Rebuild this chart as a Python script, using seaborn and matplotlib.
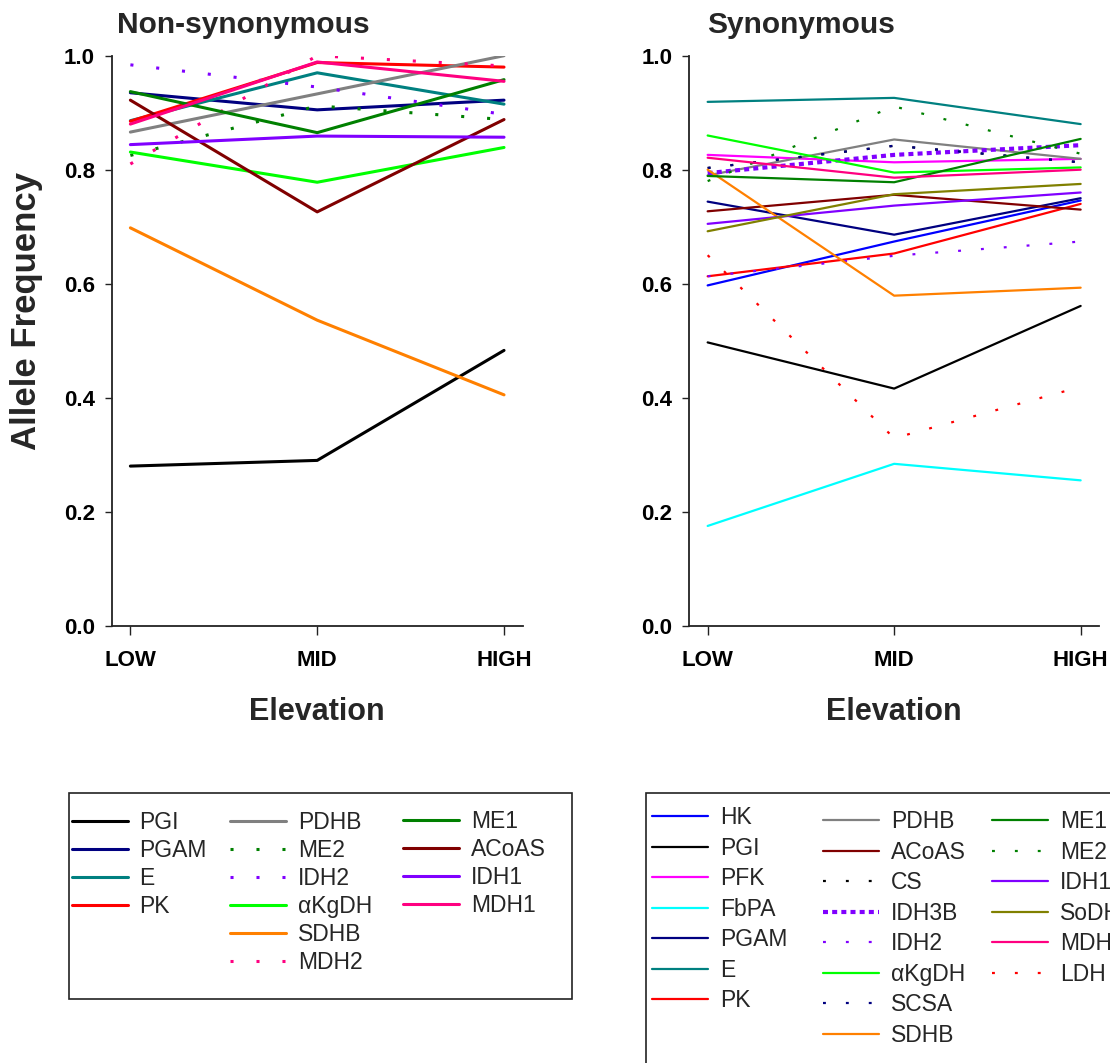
import matplotlib
matplotlib.use("Agg")
import matplotlib.pyplot as plt
import seaborn as sns
from matplotlib.ticker import FormatStrFormatter
from matplotlib.patches import Rectangle

# elevation categories (x axis)
elevation = ["LOW", "MID", "HIGH"]
y_ticks = [0.0, 0.2, 0.4, 0.6, 0.8, 1.0]

# Non-synonymous allele frequencies (LOW, MID, HIGH)
ns_PGI = [0.280, 0.290, 0.483]
ns_PGAM = [0.935, 0.905, 0.922]
ns_E = [0.886, 0.970, 0.915]
ns_PK = [0.885, 0.988, 0.980]
ns_PDHB = [0.866, 0.933, 1.000]
ns_ME2 = [0.825, 0.912, 0.888]
ns_IDH2 = [0.984, 0.945, 0.897]
ns_aKgDH = [0.831, 0.778, 0.839]
ns_SDHB = [0.698, 0.536, 0.405]
ns_MDH2 = [0.810, 1.000, 0.982]
ns_ME1 = [0.937, 0.865, 0.958]
ns_ACoAS = [0.922, 0.726, 0.888]
ns_IDH1 = [0.844, 0.859, 0.857]
ns_MDH1 = [0.880, 0.989, 0.955]

# Synonymous allele frequencies (LOW, MID, HIGH)
s_HK = [0.597, 0.674, 0.746]
s_PGI = [0.497, 0.416, 0.561]
s_PFK = [0.826, 0.813, 0.819]
s_FbPA = [0.175, 0.284, 0.255]
s_PGAM = [0.744, 0.686, 0.750]
s_E = [0.919, 0.926, 0.880]
s_PK = [0.613, 0.653, 0.740]
s_PDHB = [0.790, 0.853, 0.819]
s_ACoAS = [0.727, 0.756, 0.730]
s_CS = [0.803, 0.842, 0.813]
s_IDH3B = [0.794, 0.826, 0.843]
s_IDH2 = [0.613, 0.649, 0.674]
s_aKgDH = [0.860, 0.795, 0.804]
s_SCSA = [0.803, 0.842, 0.813]
s_SDHB = [0.800, 0.579, 0.593]
s_ME1 = [0.789, 0.778, 0.854]
s_ME2 = [0.780, 0.911, 0.828]
s_IDH1 = [0.705, 0.737, 0.760]
s_SoDH = [0.692, 0.757, 0.775]
s_MDH1 = [0.821, 0.786, 0.800]
s_LDH = [0.650, 0.329, 0.419]

# series per panel, in drawing / legend order
ns_series = [
    ("PGI", ns_PGI), ("PGAM", ns_PGAM), ("E", ns_E), ("PK", ns_PK),
    ("PDHB", ns_PDHB), ("ME2", ns_ME2), ("IDH2", ns_IDH2), ("\u03b1KgDH", ns_aKgDH),
    ("SDHB", ns_SDHB), ("MDH2", ns_MDH2), ("ME1", ns_ME1), ("ACoAS", ns_ACoAS),
    ("IDH1", ns_IDH1), ("MDH1", ns_MDH1),
]
s_series = [
    ("HK", s_HK), ("PGI", s_PGI), ("PFK", s_PFK), ("FbPA", s_FbPA),
    ("PGAM", s_PGAM), ("E", s_E), ("PK", s_PK), ("PDHB", s_PDHB),
    ("ACoAS", s_ACoAS), ("CS", s_CS), ("IDH3B", s_IDH3B), ("IDH2", s_IDH2),
    ("\u03b1KgDH", s_aKgDH), ("SCSA", s_SCSA), ("SDHB", s_SDHB), ("ME1", s_ME1),
    ("ME2", s_ME2), ("IDH1", s_IDH1), ("SoDH", s_SoDH), ("MDH1", s_MDH1),
    ("LDH", s_LDH),
]

ns_legend_cols = [
    ["PGI", "PGAM", "E", "PK"],
    ["PDHB", "ME2", "IDH2", "\u03b1KgDH", "SDHB", "MDH2"],
    ["ME1", "ACoAS", "IDH1", "MDH1"],
]
s_legend_cols = [
    ["HK", "PGI", "PFK", "FbPA", "PGAM", "E", "PK"],
    ["PDHB", "ACoAS", "CS", "IDH3B", "IDH2", "\u03b1KgDH", "SCSA", "SDHB"],
    ["ME1", "ME2", "IDH1", "SoDH", "MDH1", "LDH"],
]

# colours and line styles
colors = {
    "HK": "#0000FF", "PGI": "#000000", "PFK": "#FF00FF", "FbPA": "#00FFFF",
    "PGAM": "#000080", "E": "#008080", "PK": "#FF0000", "PDHB": "#808080",
    "ACoAS": "#800000", "CS": "#000000", "IDH3B": "#8000FF", "IDH2": "#8000FF",
    "\u03b1KgDH": "#00FF00", "SCSA": "#000080", "SDHB": "#FF8000", "ME1": "#008000",
    "ME2": "#008000", "IDH1": "#8000FF", "SoDH": "#808000", "MDH1": "#FF0080",
    "MDH2": "#FF0080", "LDH": "#FF0000",
}
dotted = {"ME2", "IDH2", "MDH2", "CS", "SCSA", "LDH"}

sns.set_style("ticks")
plt.rcParams["font.family"] = ["Liberation Sans", "DejaVu Sans"]

W, H = 1110, 1063
fig = plt.figure(figsize=(W / 100, H / 100), dpi=100)
ax1 = fig.add_axes([111.7 / W, 1 - 625.7 / H, 411 / W, 570 / H])
ax2 = fig.add_axes([689 / W, 1 - 625.7 / H, 410.3 / W, 570 / H])


def draw_panel(ax, series, lw, dot_style, dot_lw):
    handles = {}
    for name, vals in series:
        kw = dict(color=colors[name], linewidth=lw)
        if name in dotted:
            kw["linestyle"] = dot_style
            kw["linewidth"] = dot_lw
        if name == "IDH3B":
            kw["linestyle"] = (0, (1.2, 1.0))
            kw["linewidth"] = 3.0
        sns.lineplot(x=elevation, y=vals, ax=ax, errorbar=None, legend=False, **kw)
        handles[name] = ax.lines[-1]
    ax.set_xlim(-0.1, 2.1)
    ax.set_ylim(0, 1.0)
    ax.set_yticks(y_ticks)
    ax.yaxis.set_major_formatter(FormatStrFormatter("%.1f"))
    ax.tick_params(axis="y", length=5, width=1, pad=7, labelsize=16, colors="#222222", labelcolor="black")
    ax.tick_params(axis="x", length=6.5, width=1, pad=11, labelsize=16, colors="#222222", labelcolor="black")
    for lab in ax.get_xticklabels() + ax.get_yticklabels():
        lab.set_fontweight("bold")
    sns.despine(ax=ax)
    for sp in ("left", "bottom"):
        ax.spines[sp].set_linewidth(1.3)
        ax.spines[sp].set_color("#222222")
    ax.set_xlabel("Elevation", fontsize=22, fontweight="bold")
    ax.xaxis.set_label_coords(0.4995, -0.125)
    ax.set_ylabel("")
    return handles


h1 = draw_panel(ax1, ns_series, 2.2, (0, (1, 7.5)), 2.2)
h2 = draw_panel(ax2, s_series, 1.6, (0, (1.3, 9.0)), 1.6)

ax1.set_ylabel("Allele Frequency", fontsize=25, fontweight="bold")
ax1.yaxis.set_label_coords(-0.168, 0.552)

ax1.text(117 / W, 1 - 33 / H, "Non-synonymous", transform=fig.transFigure,
         fontsize=21.5, fontweight="bold", ha="left", va="baseline")
ax2.text(707 / W, 1 - 33 / H, "Synonymous", transform=fig.transFigure,
         fontsize=21.5, fontweight="bold", ha="left", va="baseline")


def column_legends(handles, cols, xs, ytops, spacing):
    for names, x, ytop in zip(cols, xs, ytops):
        fig.legend([handles[n] for n in names], names, loc="upper left",
                   bbox_to_anchor=(x / W, 1 - ytop / H), bbox_transform=fig.transFigure,
                   frameon=False, borderpad=0, borderaxespad=0, fontsize=16.5,
                   handlelength=2.45, handletextpad=0.51, labelspacing=spacing)


column_legends(h1, ns_legend_cols, [71.7, 230, 403], [811, 811, 810], 0.22)
column_legends(h2, s_legend_cols, [652, 823, 992], [806, 810, 810], 0.33)

fig.patches.append(Rectangle((69.3 / W, 1 - 999 / H), (571.7 - 69.3) / W, (999 - 792.7) / H,
                             transform=fig.transFigure, fill=False, edgecolor="#222222", linewidth=1.2))
fig.patches.append(Rectangle((645.7 / W, 1 - 1100 / H), 600 / W, (1100 - 793.3) / H,
                             transform=fig.transFigure, fill=False, edgecolor="#222222", linewidth=1.2))

fig.savefig("out.png", dpi=100)
